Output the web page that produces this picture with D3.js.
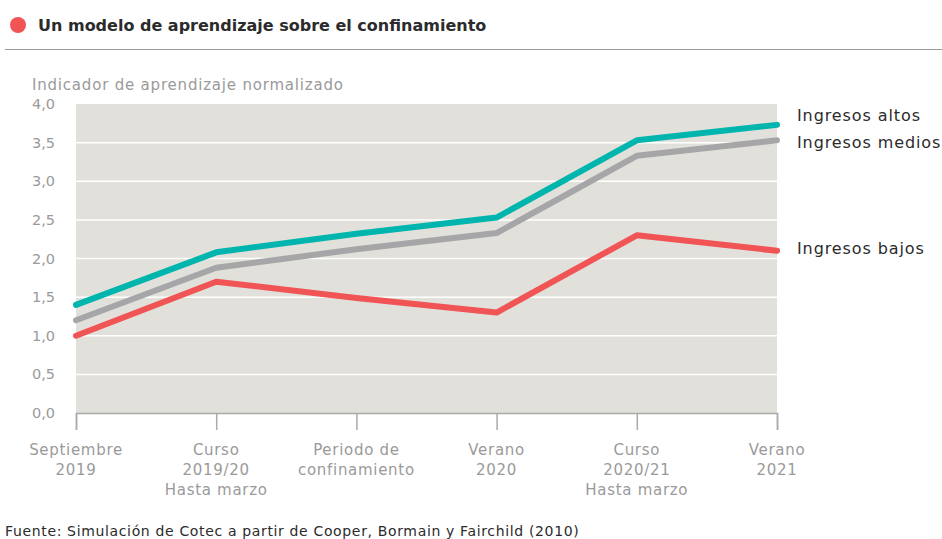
<!DOCTYPE html>
<html>
<head>
<meta charset="utf-8">
<script src="https://cdn.jsdelivr.net/npm/d3@7"></script>
<style>
  body { margin: 0; background: #fff; }
  svg { font-family: "DejaVu Sans", Arial, sans-serif; }
</style>
</head>
<body>
<div id="chart"></div>
<script>
// Data
const categories = [
  ["Septiembre", "2019"],
  ["Curso", "2019/20", "Hasta marzo"],
  ["Periodo de", "confinamiento"],
  ["Verano", "2020"],
  ["Curso", "2020/21", "Hasta marzo"],
  ["Verano", "2021"]
];
const altos = [1.4, 2.08, 2.32, 2.53, 3.53, 3.73];
const medios = [1.2, 1.88, 2.12, 2.33, 3.33, 3.53];
const bajos = [1.0, 1.7, 1.49, 1.3, 2.3, 2.1];
const yTicks = [0, 0.5, 1, 1.5, 2, 2.5, 3, 3.5, 4];

const series = [
  { name: "Ingresos altos", values: altos, color: "#00b5ad", dy: -9 },
  { name: "Ingresos medios", values: medios, color: "#a6a6a9", dy: 2 },
  { name: "Ingresos bajos", values: bajos, color: "#f05454", dy: -2 }
];

const W = 942, H = 539;
const plot = { left: 76, right: 777, top: 104, bottom: 413 };
const gray = "#9a9a9a", dark = "#2b2b2b";

const svg = d3.select("#chart").append("svg")
  .attr("width", W)
  .attr("height", H);

// Title
svg.append("circle").attr("cx", 18).attr("cy", 25).attr("r", 8).attr("fill", "#f05454");
svg.append("text")
  .attr("x", 38).attr("y", 31)
  .attr("font-size", 16).attr("font-weight", "bold")
  .attr("fill", dark)
  .text("Un modelo de aprendizaje sobre el confinamiento");
svg.append("line")
  .attr("x1", 5).attr("x2", W).attr("y1", 49.5).attr("y2", 49.5)
  .attr("stroke", gray).attr("stroke-width", 1);

// Scales
const x = d3.scalePoint()
  .domain(d3.range(categories.length))
  .range([plot.left, plot.right]);
const y = d3.scaleLinear()
  .domain([0, 4])
  .range([plot.bottom, plot.top]);

// Plot background
svg.append("rect")
  .attr("x", plot.left).attr("y", plot.top)
  .attr("width", plot.right - plot.left)
  .attr("height", plot.bottom - plot.top)
  .attr("fill", "#e1e0da");

// Gridlines
svg.append("g")
  .selectAll("line")
  .data(yTicks.filter(d => d > 0 && d < 4))
  .join("line")
  .attr("x1", plot.left).attr("x2", plot.right)
  .attr("y1", d => y(d)).attr("y2", d => y(d))
  .attr("stroke", "#ffffff").attr("stroke-width", 1.5);

// Y axis labels
svg.append("g")
  .selectAll("text")
  .data(yTicks)
  .join("text")
  .attr("x", 55)
  .attr("y", d => y(d))
  .attr("dy", "0.35em")
  .attr("text-anchor", "end")
  .attr("font-size", 14.5)
  .attr("fill", gray)
  .text(d => d3.format(".1f")(d).replace(".", ","));

svg.append("text")
  .attr("x", 32).attr("y", 90)
  .attr("font-size", 15)
  .attr("letter-spacing", 0.8)
  .attr("fill", gray)
  .text("Indicador de aprendizaje normalizado");

// X axis
const xAxis = d3.axisBottom(x).tickSize(17).tickFormat("");
const gx = svg.append("g")
  .attr("transform", `translate(0,${plot.bottom})`)
  .call(xAxis);
gx.select(".domain").attr("stroke", "#aaaaaa").attr("stroke-width", 1.5);
gx.selectAll(".tick line").attr("stroke", "#aaaaaa").attr("stroke-width", 1.5);

const xl = svg.append("g")
  .selectAll("text")
  .data(categories)
  .join("text")
  .attr("x", (d, i) => x(i))
  .attr("y", 455)
  .attr("text-anchor", "middle")
  .attr("font-size", 15)
  .attr("letter-spacing", 0.7)
  .attr("fill", gray);
xl.selectAll("tspan")
  .data(d => d)
  .join("tspan")
  .attr("x", function () { return d3.select(this.parentNode).attr("x"); })
  .attr("dy", (d, i) => i === 0 ? 0 : 20)
  .text(d => d);

// Lines
const line = d3.line()
  .x((d, i) => x(i))
  .y(d => y(d));

svg.append("g")
  .selectAll("path")
  .data(series)
  .join("path")
  .attr("d", d => line(d.values))
  .attr("fill", "none")
  .attr("stroke", d => d.color)
  .attr("stroke-width", 6)
  .attr("stroke-linecap", "round")
  .attr("stroke-linejoin", "round");

// Legend labels at line ends
svg.append("g")
  .selectAll("text")
  .data(series)
  .join("text")
  .attr("x", 797)
  .attr("y", d => y(d.values[d.values.length - 1]) + d.dy)
  .attr("dy", "0.35em")
  .attr("font-size", 16)
  .attr("letter-spacing", 0.9)
  .attr("fill", dark)
  .text(d => d.name);

// Source
svg.append("text")
  .attr("x", 5).attr("y", 536)
  .attr("font-size", 14)
  .attr("letter-spacing", 0.65)
  .attr("fill", dark)
  .text("Fuente: Simulación de Cotec a partir de Cooper, Bormain y Fairchild (2010)");
</script>
</body>
</html>
